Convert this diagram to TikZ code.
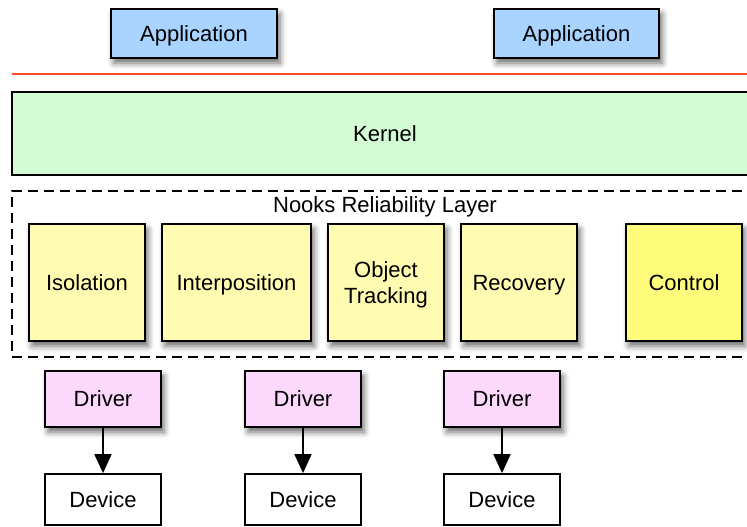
\documentclass[tikz,border=0pt]{standalone}
\usepackage{fontspec}
\setmainfont{Liberation Sans}
\usetikzlibrary{shadows.blur,arrows.meta}
\definecolor{appblue}{HTML}{A8D4FF}
\definecolor{kernelgreen}{HTML}{D4FCD4}
\definecolor{layeryellow}{HTML}{FFFCB2}
\definecolor{ctrlyellow}{HTML}{FFFC7C}
\definecolor{driverpink}{HTML}{FCD8FC}
\definecolor{sepred}{HTML}{FF4A2A}
\tikzset{
  label text/.style={font=\fontsize{22}{26}\selectfont, text depth=0pt},
  box/.style={draw=black, line width=1.8pt, rectangle, inner sep=0pt,
    align=center, label text},
  shade/.style={blur shadow={shadow xshift=3pt, shadow yshift=-5pt,
    shadow blur radius=6pt, shadow opacity=60}},
  appbox/.style={box, shade, fill=appblue, minimum height=49pt},
  modbox/.style={box, shade, fill=layeryellow, minimum width=116pt, minimum height=117pt},
  drvbox/.style={box, shade, fill=driverpink, minimum width=116pt, minimum height=56pt},
  devbox/.style={box, fill=white, minimum width=116pt, minimum height=51pt},
  link/.style={line width=1.8pt, -{Triangle[width=17pt,length=19pt]}}
}
\begin{document}
\begin{tikzpicture}[x=1pt,y=-1pt]
  \useasboundingbox (0,0) rectangle (747,527);

  % user space
  \node[appbox, minimum width=166pt] (app1) at (194,33.5) {Application};
  \node[appbox, minimum width=165pt] (app2) at (576.5,33.5) {Application};

  % user/kernel boundary
  \coordinate (sepL) at (12,74);
  \coordinate (sepR) at (760,74);
  \draw[sepred, line width=1.8pt] (sepL) -- (sepR);

  % kernel
  \node[box, fill=kernelgreen, minimum width=746pt, minimum height=83pt] (kernel) at (385,133.5) {Kernel};

  % reliability layer
  \node[draw=black, line width=1.8pt, dash pattern=on 10pt off 6pt,
        minimum width=746pt, minimum height=166pt, inner sep=0pt] (nooks) at (385,274) {};
  \node[label text] (nookslbl) at (385,205) {Nooks Reliability Layer};

  \node[modbox] (iso) at (87,282.5) {Isolation};
  \node[modbox, minimum width=149pt] (inter) at (236.5,282.5) {Interposition};
  \node[modbox] (track) at (386,282.5) {Object\\Tracking};
  \node[modbox] (recov) at (519,282.5) {Recovery};
  \node[modbox, fill=ctrlyellow] (ctrl) at (684,282.5) {Control};

  % drivers and devices
  \node[drvbox] (drv1) at (103,399) {Driver};
  \node[drvbox] (drv2) at (303,399) {Driver};
  \node[drvbox] (drv3) at (502,399) {Driver};

  \node[devbox] (dev1) at (103,499.5) {Device};
  \node[devbox] (dev2) at (303,499.5) {Device};
  \node[devbox] (dev3) at (502,499.5) {Device};

  \draw[link] (drv1) -- (dev1);
  \draw[link] (drv2) -- (dev2);
  \draw[link] (drv3) -- (dev3);
\end{tikzpicture}
\end{document}
